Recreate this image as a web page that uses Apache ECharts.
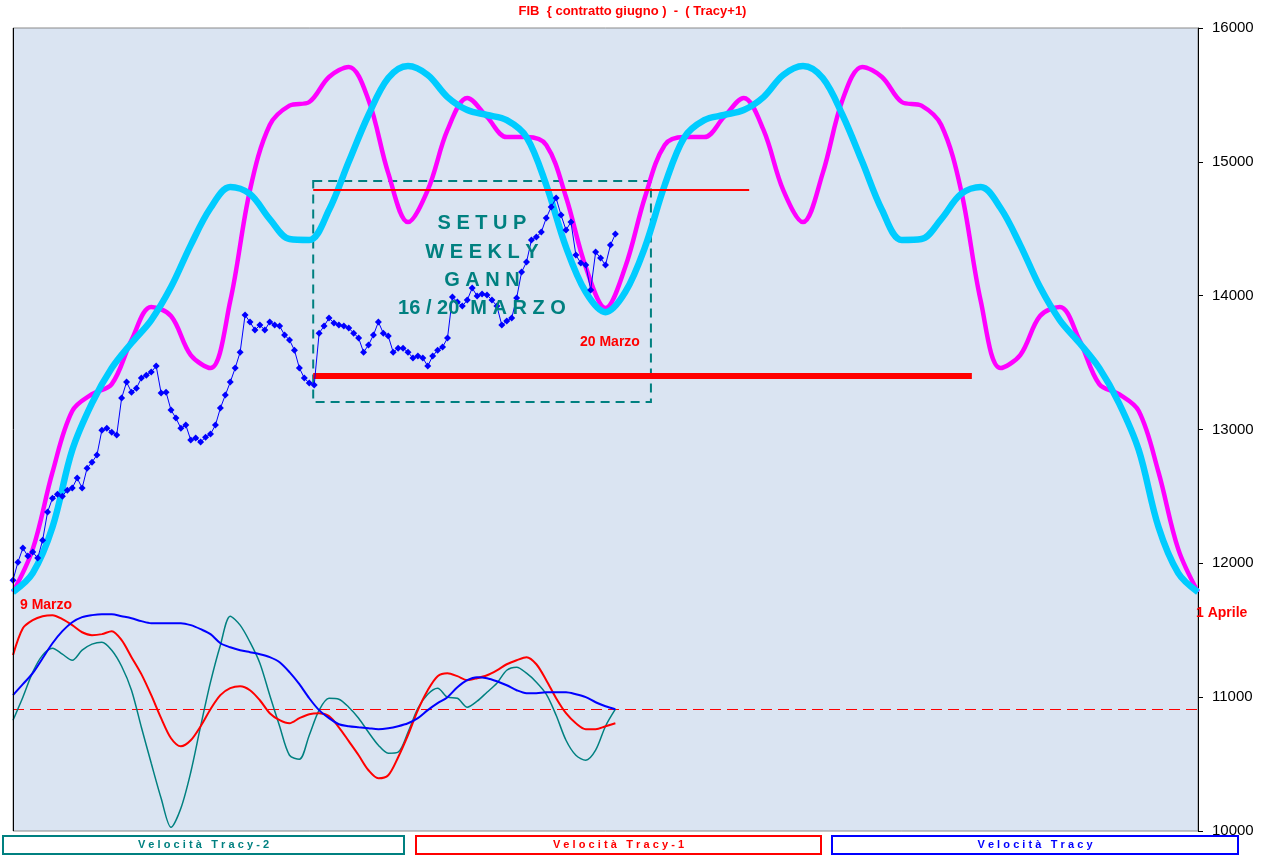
<!DOCTYPE html>
<html><head><meta charset="utf-8">
<script src="https://cdn.jsdelivr.net/npm/echarts@6.0.0/dist/echarts.min.js"></script>
<style>html,body{margin:0;padding:0;background:#fff}#c{width:1265px;height:858px}</style>
</head><body><div id="c"></div><script>
// x axis: sessions 0..240 (hidden)
const xMax = 240;
const curveStep = 4;
const fibMagenta = [11785,12106,12681,13138,13264,13339,13668,13915,13848,13556,13459,13960,14790,15275,15420,15447,15634,15709,15462,14916,14550,14789,15238,15477,15335,15185,15185,15126,14737,14214,13907,
  14214,14737,15126,15185,15185,15335,15477,15238,14789,14550,14916,15462,15709,15634,15447,15420,15275,14790,13960,13459,13556,13848,13915,13668,13339,13264,13138,12681,12106,11785];
const fibCyan = [11785,11927,12271,12846,13197,13459,13646,13818,14064,14378,14655,14812,14759,14572,14423,14416,14640,15000,15350,15626,15716,15649,15484,15387,15350,15312,15185,14827,14363,14027,13877,
  14027,14363,14827,15185,15312,15350,15387,15484,15649,15716,15626,15350,15000,14640,14416,14423,14572,14759,14812,14655,14378,14064,13818,13646,13459,13197,12846,12271,11927,11785];
const priceStep = 1;
const fibPrice = [11874,12009,12114,12054,12084,12039,12173,12383,12487,12517,12502,12547,12562,12637,12562,12711,12756,12809,12995,13010,
  12980,12958,13235,13354,13279,13309,13384,13406,13429,13474,13272,13279,13145,13085,13010,13033,12921,12936,12906,12943,
  12966,13033,13160,13257,13354,13459,13578,13855,13803,13743,13780,13743,13803,13780,13773,13706,13668,13593,13459,13384,
  13347,13332,13720,13773,13833,13795,13780,13773,13758,13720,13683,13578,13631,13706,13803,13720,13698,13578,13608,13608,
  13578,13534,13549,13534,13474,13549,13593,13616,13683,13990,13952,13922,13967,14057,13997,14012,14005,13967,13922,13780,
  13810,13833,13982,14176,14251,14416,14438,14475,14580,14662,14729,14602,14490,14550,14303,14244,14229,14042,14326,14281,
  14229,14378,14460];
const velStep = 2;
const velTracy2 = [10828,11000,11187,11314,11366,11321,11276,11351,11396,11411,11351,11231,11052,10775,10506,10245,10028,10170,10439,10783,
  11112,11388,11605,11538,11411,11254,11015,10783,10566,10536,10716,10903,10992,10985,10925,10843,10738,10641,10581,10589,
  10738,10917,11022,11067,11000,10992,10925,10970,11037,11104,11201,11224,11179,11112,11022,10865,10678,10566,10529,10604,
  10783,10910];
const velTracy1 = [11314,11515,11575,11605,11613,11583,11538,11485,11463,11471,11493,11426,11299,11172,11015,10843,10693,10633,10678,10783,
  10910,11015,11067,11082,11052,10977,10880,10828,10805,10843,10873,10880,10858,10775,10671,10566,10454,10394,10417,10551,
  10716,10903,11052,11157,11179,11157,11127,11142,11164,11201,11246,11276,11299,11246,11127,10992,10880,10805,10761,10761,
  10783,10805];
const velTracy = [11015,11097,11179,11291,11403,11493,11560,11598,11613,11620,11620,11605,11590,11568,11553,11553,11553,11553,11538,11508,
  11471,11403,11373,11351,11336,11321,11299,11261,11187,11097,10992,10903,10843,10798,10783,10775,10768,10761,10768,10783,
  10805,10843,10903,10955,11000,11074,11127,11149,11142,11119,11089,11052,11030,11030,11037,11037,11037,11022,11000,10962,
  10932,10910];
const velZero = 10910;
const yMin = 10000, yMax = 16000, yInterval = 1000;
// setup box: [xStart, xEnd, yLow, yHigh]
const setupBox = [60.8, 129.2, 13205, 14856];
const resistanceLine = [60.8, 149.1, 14790];
const supportLine = [60.8, 194.2, 13405];
const legendNames = ['Velocità Tracy-2', 'Velocità Tracy-1', 'Velocità Tracy'];
const legendColors = ['#008080', '#ff0000', '#0000ff'];

const toXY = (arr, step) => arr.map((v, i) => [i * step, v]);
const spaced = s => s.split('').join('\u2009\u200a');

const chart = echarts.init(document.getElementById('c'), null, {renderer: 'canvas'});
const FONT = 'Liberation Sans, Arial, sans-serif';

const graphics = [
  {type: 'line', shape: {x1: 13.5, y1: 28, x2: 13.5, y2: 831}, style: {stroke: '#000', lineWidth: 1}, z: 40},
  {type: 'text', left: 'center', top: 5, style: {text: 'FIB  { contratto giugno )  -  ( Tracy+1)', fill: '#ff0000', font: 'bold 13px ' + FONT}},
  {type: 'text', x: 482, y: 223, style: {text: 'S E T U P', fill: '#008080', font: 'bold 20px ' + FONT, align: 'center', verticalAlign: 'middle'}, z: 50},
  {type: 'text', x: 482, y: 252, style: {text: 'W E E K L Y', fill: '#008080', font: 'bold 20px ' + FONT, align: 'center', verticalAlign: 'middle'}, z: 50},
  {type: 'text', x: 482, y: 280, style: {text: 'G A N N', fill: '#008080', font: 'bold 20px ' + FONT, align: 'center', verticalAlign: 'middle'}, z: 50},
  {type: 'text', x: 482, y: 308, style: {text: '16 / 20  M A R Z O', fill: '#008080', font: 'bold 20px ' + FONT, align: 'center', verticalAlign: 'middle'}, z: 50},
  {type: 'text', x: 580, y: 342, style: {text: '20 Marzo', fill: '#ff0000', font: 'bold 14px ' + FONT, verticalAlign: 'middle'}, z: 50},
  {type: 'text', x: 20, y: 605, style: {text: '9 Marzo', fill: '#ff0000', font: 'bold 14px ' + FONT, verticalAlign: 'middle'}, z: 50},
  {type: 'text', x: 1196, y: 613, style: {text: '1 Aprile', fill: '#ff0000', font: 'bold 14px ' + FONT, verticalAlign: 'middle'}, z: 50}
];
const boxes = [[3, 401], [416, 405], [832, 406]];
boxes.forEach((b, i) => {
  graphics.push({type: 'rect', shape: {x: b[0], y: 836, width: b[1], height: 18}, style: {fill: '#ffffff', stroke: legendColors[i], lineWidth: 2}, z: 60});
  graphics.push({type: 'text', x: b[0] + b[1] / 2, y: 845, style: {text: spaced(legendNames[i]), fill: legendColors[i], font: 'bold 11px ' + FONT, align: 'center', verticalAlign: 'middle'}, z: 61});
});

const option = {
  animation: false,
  backgroundColor: '#ffffff',
  grid: {left: 13, right: 67, top: 28, bottom: 27, show: true, backgroundColor: '#dae4f2', borderColor: '#8a8a8a', borderWidth: 1},
  xAxis: {type: 'value', min: 0, max: xMax, show: false},
  yAxis: {type: 'value', position: 'right', min: yMin, max: yMax, interval: yInterval,
     axisLine: {show: true, onZero: false, lineStyle: {color: '#000', width: 1}},
     axisTick: {show: true, inside: false, length: 5, lineStyle: {color: '#000'}},
     axisLabel: {color: '#000', fontFamily: FONT, fontSize: 15, margin: 14, formatter: v => String(v)},
     splitLine: {show: false}},
  graphic: graphics,
  series: [
    {name: 'Tracy+1 mag', type: 'line', data: toXY(fibMagenta, curveStep), smooth: 0.35, showSymbol: false,
     lineStyle: {color: '#ff00ff', width: 4.5}, z: 3},
    {name: 'Tracy cyan', type: 'line', data: toXY(fibCyan, curveStep), smooth: 0.35, showSymbol: false,
     lineStyle: {color: '#00ccff', width: 6.5}, z: 4},
    {name: 'FIB', type: 'line', data: toXY(fibPrice, priceStep), symbol: 'diamond', symbolSize: 7,
     itemStyle: {color: '#0000ff'}, lineStyle: {color: '#0000ff', width: 1}, z: 6,
     markArea: {silent: true, itemStyle: {color: 'rgba(0,0,0,0)', borderColor: '#008080', borderWidth: 2, borderType: [9, 6]},
       data: [[{coord: [setupBox[0], setupBox[3]]}, {coord: [setupBox[1], setupBox[2]]}]]},
     markLine: {silent: true, symbol: 'none', label: {show: false},
       data: [
         [{coord: [resistanceLine[0], resistanceLine[2]], lineStyle: {color: '#ff0000', width: 2, type: 'solid'}}, {coord: [resistanceLine[1], resistanceLine[2]]}],
         [{coord: [supportLine[0], supportLine[2]], lineStyle: {color: '#ff0000', width: 6, type: 'solid'}}, {coord: [supportLine[1], supportLine[2]]}]
       ]}},
    {name: legendNames[0], type: 'line', data: toXY(velTracy2, velStep), smooth: 0.3, showSymbol: false,
     lineStyle: {color: '#008080', width: 1.5}, z: 5,
     markLine: {silent: true, symbol: 'none', label: {show: false},
       lineStyle: {color: '#ff0000', width: 1.2, type: [11, 6]}, data: [{yAxis: velZero}]}},
    {name: legendNames[1], type: 'line', data: toXY(velTracy1, velStep), smooth: 0.3, showSymbol: false,
     lineStyle: {color: '#ff0000', width: 2}, z: 5},
    {name: legendNames[2], type: 'line', data: toXY(velTracy, velStep), smooth: 0.3, showSymbol: false,
     lineStyle: {color: '#0000ff', width: 2}, z: 5}
  ]
};
chart.setOption(option);
</script></body></html>
